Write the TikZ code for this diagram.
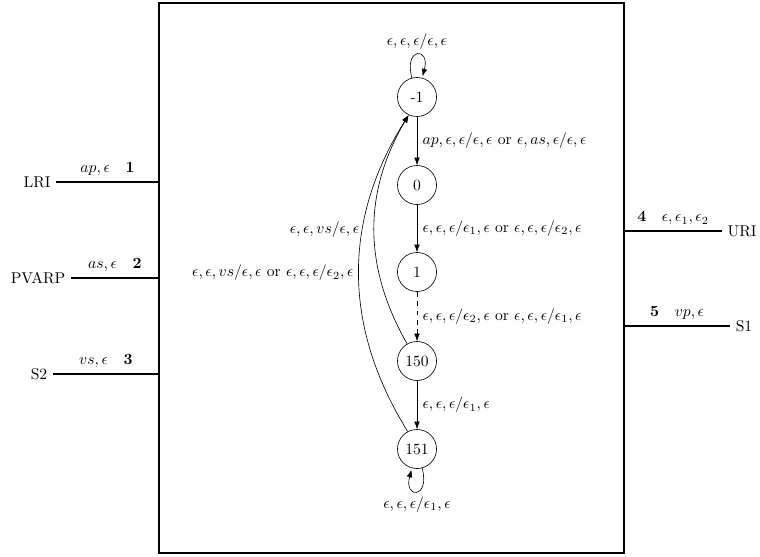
\documentclass[tikz,border=0pt]{standalone}
\usepackage{amsmath,amssymb}
\usetikzlibrary{arrows.meta,positioning}

\begin{document}
\begin{tikzpicture}[x=0.64pt, y=-0.64pt, >=Latex,
    state/.style={draw, circle, minimum size=25pt, inner sep=1pt},
    port/.style={line width=1pt}]
    \useasboundingbox (0,0) rectangle (760,556);
    % the component box
    \draw[line width=1pt] (159,3) rectangle (624,553);
    \coordinate (bl) at (159,0);
    \coordinate (br) at (624,0);
    % ports
    \node (lri) at (37,182) {LRI};
    \node (pvarp) at (38,278) {PVARP};
    \node (stwo) at (39,374) {S2};
    \node (uri) at (742,231) {URI};
    \node (sone) at (744,326) {S1};
    \draw[port] (lri.east) -- node[above] {$ap,\epsilon$\quad\textbf{1}} (lri.east -| bl);
    \draw[port] (pvarp.east) -- node[above] {$as,\epsilon$\quad\textbf{2}} (pvarp.east -| bl);
    \draw[port] (stwo.east) -- node[above] {$vs,\epsilon$\quad\textbf{3}} (stwo.east -| bl);
    \draw[port] (uri.west -| br) -- node[above] {\textbf{4}\quad$\epsilon,\epsilon_1,\epsilon_2$} (uri.west);
    \draw[port] (sone.west -| br) -- node[above] {\textbf{5}\quad$vp,\epsilon$} (sone.west);
    % states
    \node[state] (m1) at (417,97) {-1};
    \node[state] (s0) at (417,185) {0};
    \node[state] (s1) at (417,272) {1};
    \node[state] (s150) at (417,361) {150};
    \node[state] (s151) at (417,449) {151};
    % transitions
    \draw[->] (m1) edge[loop above] node[above] {$\epsilon,\epsilon,\epsilon/\epsilon,\epsilon$} (m1);
    \draw[->] (m1) -- node[right] {$ap,\epsilon,\epsilon/\epsilon,\epsilon$ or $\epsilon,as,\epsilon/\epsilon,\epsilon$} (s0);
    \draw[->] (s0) -- node[right] {$\epsilon,\epsilon,\epsilon/\epsilon_1,\epsilon$ or $\epsilon,\epsilon,\epsilon/\epsilon_2,\epsilon$} (s1);
    \draw[->, dashed] (s1) -- node[right] {$\epsilon,\epsilon,\epsilon/\epsilon_2,\epsilon$ or $\epsilon,\epsilon,\epsilon/\epsilon_1,\epsilon$} (s150);
    \draw[->] (s150) -- node[right] {$\epsilon,\epsilon,\epsilon/\epsilon_1,\epsilon$} (s151);
    \draw[->] (s151) edge[loop below] node[below] {$\epsilon,\epsilon,\epsilon/\epsilon_1,\epsilon$} (s151);
    \draw[->] (s150.120) to[bend left=30] node[left=6pt] {$\epsilon,\epsilon,vs/\epsilon,\epsilon$} (m1.245);
    \draw[->] (s151.118) to[bend left=32] node[left] {$\epsilon,\epsilon,vs/\epsilon,\epsilon$ or $\epsilon,\epsilon,\epsilon/\epsilon_2,\epsilon$} (m1.245);
\end{tikzpicture}
\end{document}
